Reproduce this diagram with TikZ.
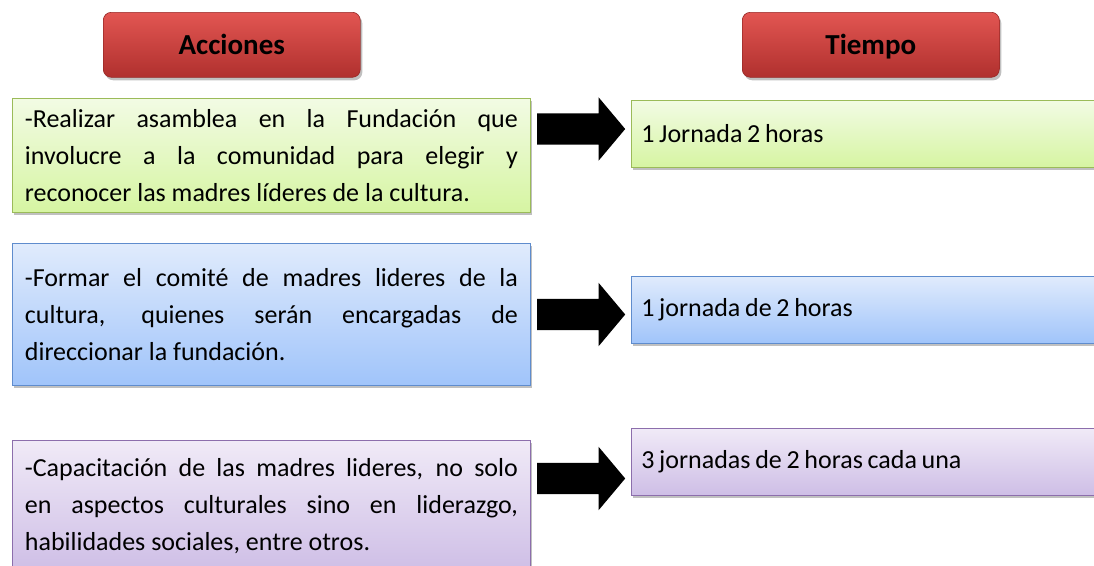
\documentclass[tikz,border=0pt]{standalone}
\usepackage{fontspec}
\setmainfont{Carlito}
\usetikzlibrary{shapes.arrows,shadows}
\definecolor{hdrtop}{RGB}{226,86,82}
\definecolor{hdrbot}{RGB}{176,48,46}
\definecolor{hdredge}{RGB}{150,40,38}
\definecolor{grtop}{RGB}{242,251,228}
\definecolor{grbot}{RGB}{214,245,162}
\definecolor{gredge}{RGB}{155,187,89}
\definecolor{bltop}{RGB}{224,235,252}
\definecolor{blbot}{RGB}{160,196,250}
\definecolor{bledge}{RGB}{95,140,205}
\definecolor{pptop}{RGB}{240,234,247}
\definecolor{ppbot}{RGB}{206,190,230}
\definecolor{ppedge}{RGB}{140,110,172}
\begin{document}
\begin{tikzpicture}[x=1pt,y=-1pt,
  shadowed/.style={drop shadow={shadow xshift=2pt,shadow yshift=-3pt,opacity=0.35,fill=black!70}},
  hdr/.style={shadowed,draw=hdredge,line width=0.6pt,rounded corners=8pt,
    top color=hdrtop,bottom color=hdrbot,minimum width=257pt,minimum height=65pt,
    inner sep=0pt,text height=19pt,text depth=0pt,anchor=north west,
    font=\fontsize{29}{34}\selectfont\bfseries},
  actbox/.style={shadowed,line width=0.8pt,anchor=north west,text width=493pt,
    inner xsep=12.5pt,inner ysep=0pt,align=justify,
    font=\fontsize{26}{37}\selectfont},
  timebox/.style={shadowed,line width=0.8pt,anchor=north west,text width=452pt,
    inner xsep=10pt,inner ysep=0pt,align=left,minimum height=67pt,
    font=\fontsize{26}{37}\selectfont,
    execute at begin node={\spaceskip=0.18em plus 0.05em minus 0.02em\relax}},
  green/.style={draw=gredge,top color=grtop,bottom color=grbot},
  blue/.style={draw=bledge,top color=bltop,bottom color=blbot},
  purple/.style={draw=ppedge,top color=pptop,bottom color=ppbot},
  blockarrow/.style={single arrow,fill=black,draw=none,inner xsep=0pt,inner ysep=15.5pt,
    minimum height=88pt,minimum width=63pt,single arrow head extend=16pt,
    single arrow tip angle=100,anchor=tail}]
\fill[white] (0,0) rectangle (1094,565);
\useasboundingbox (0,0) rectangle (1094,565);

\node[hdr] (acc) at (103,12) {Acciones};
\node[hdr] (tie) at (742,12) {Tiempo};

\node[actbox,green,minimum height=114pt] (g1) at (12,98)
  {-Realizar asamblea en la Fundación que\linebreak involucre a la comunidad para elegir y\linebreak reconocer las madres líderes de la cultura.};
\node[actbox,blue,minimum height=142pt] (b1) at (12,243)
  {-Formar el comité de madres lideres de la\linebreak cultura, quienes serán encargadas de\linebreak direccionar la fundación.};
\node[actbox,purple,minimum height=132pt] (p1) at (12,440)
  {-Capacitación de las madres lideres, no solo\linebreak en aspectos culturales sino en liderazgo,\linebreak habilidades sociales, entre otros.};

\node[timebox,green] (g2) at (631,100) {1 Jornada 2 horas};
\node[timebox,blue] (b2) at (631,276) {1 jornada de 2 horas};
\node[timebox,purple] (p2) at (631,428) {3 jornadas de 2 horas cada una};

\node[blockarrow] (a1) at (537,129) {};
\node[blockarrow] (a2) at (537,314.5) {};
\node[blockarrow] (a3) at (537,478.5) {};
\end{tikzpicture}
\end{document}
